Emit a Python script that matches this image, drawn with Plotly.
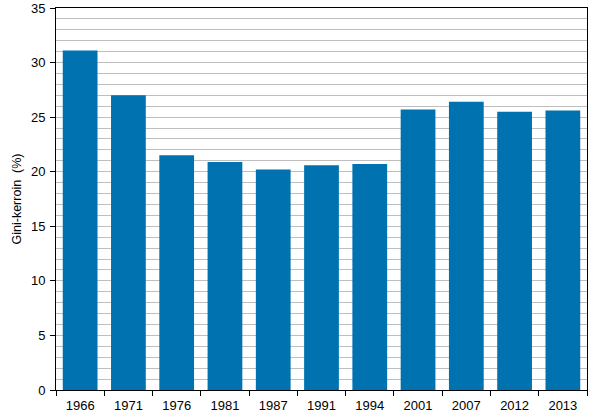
import plotly.graph_objects as go

years = ["1966", "1971", "1976", "1981", "1987", "1991", "1994", "2001", "2007", "2012", "2013"]
gini = [31.1, 27.0, 21.5, 20.9, 20.2, 20.6, 20.7, 25.7, 26.4, 25.5, 25.6]

bar_color = "#0072B0"
grid_color = "#BEBEBE"

fig = go.Figure()
fig.add_trace(go.Bar(x=years, y=gini, marker=dict(color=bar_color, line=dict(width=0))))

fig.update_layout(
    width=605,
    height=417,
    margin=dict(l=56, r=18, t=8, b=27),
    plot_bgcolor="white",
    paper_bgcolor="white",
    bargap=0.28,
    showlegend=False,
    font=dict(family="Liberation Sans, Arial, sans-serif", size=13, color="black"),
)

fig.update_xaxes(
    type="category",
    automargin=False,
    showline=True,
    linecolor="black",
    linewidth=1,
    mirror=True,
    ticks="outside",
    tickson="boundaries",
    ticklen=5,
    tickcolor="black",
    ticklabelstandoff=3,
    showgrid=False,
)

fig.update_yaxes(
    range=[0, 35],
    dtick=5,
    automargin=False,
    showline=True,
    linecolor="black",
    linewidth=1,
    mirror=True,
    ticks="outside",
    ticklen=5,
    tickcolor="black",
    ticklabelstandoff=2,
    showgrid=True,
    gridcolor=grid_color,
    gridwidth=1,
    zeroline=False,
    minor=dict(dtick=1, showgrid=True, gridcolor=grid_color, gridwidth=1),
    title=dict(text="Gini-kerroin \u00a0(%)", font=dict(size=12.5), standoff=6),
)

# page has default body margin, remove it so the chart sits at the window corner
fig.write_html("out.html", config={"displayModeBar": False},
               post_script="document.body.style.margin='0';")
